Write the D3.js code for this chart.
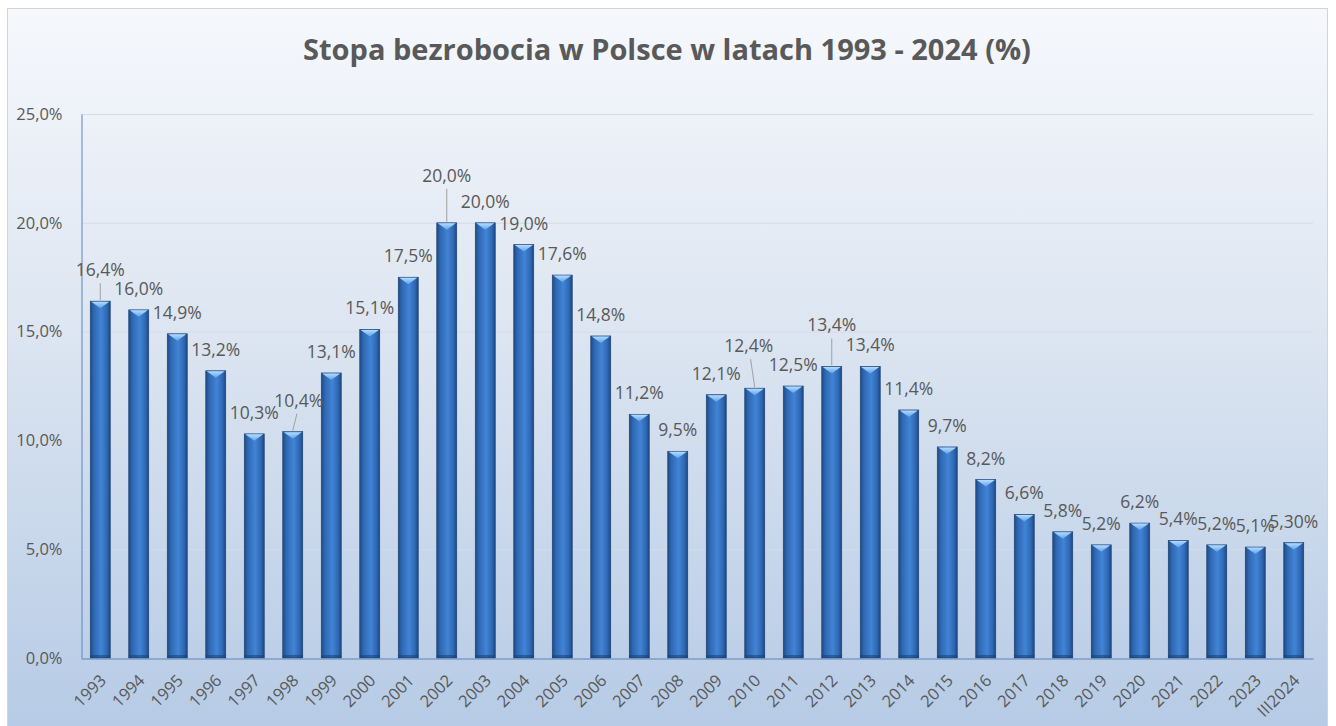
<!DOCTYPE html>
<html>
<head>
<meta charset="utf-8">
<script src="https://cdn.jsdelivr.net/npm/d3@7"></script>
<style>
  html, body { margin: 0; padding: 0; background: #ffffff; }
  svg { display: block; }
  text { font-family: "Open Sans", "DejaVu Sans", sans-serif; }
</style>
</head>
<body>
<svg id="chart" width="1336" height="726"></svg>
<script>
// ---------- DATA ----------
const categories = ["1993","1994","1995","1996","1997","1998","1999","2000","2001","2002",
  "2003","2004","2005","2006","2007","2008","2009","2010","2011","2012","2013","2014",
  "2015","2016","2017","2018","2019","2020","2021","2022","2023","III2024"];
const values = [16.4,16.0,14.9,13.2,10.3,10.4,13.1,15.1,17.5,20.0,20.0,19.0,17.6,14.8,
  11.2,9.5,12.1,12.4,12.5,13.4,13.4,11.4,9.7,8.2,6.6,5.8,5.2,6.2,5.4,5.2,5.1,5.3];
const valueLabels = ["16,4%","16,0%","14,9%","13,2%","10,3%","10,4%","13,1%","15,1%","17,5%",
  "20,0%","20,0%","19,0%","17,6%","14,8%","11,2%","9,5%","12,1%","12,4%","12,5%","13,4%",
  "13,4%","11,4%","9,7%","8,2%","6,6%","5,8%","5,2%","6,2%","5,4%","5,2%","5,1%","5,30%"];
const yTicks = [0, 5, 10, 15, 20, 25];
const yTickLabels = ["0,0%","5,0%","10,0%","15,0%","20,0%","25,0%"];
const titleText = "Stopa bezrobocia w Polsce w latach 1993 - 2024 (%)";

// ---------- LAYOUT / STYLE ----------
const W = 1336, H = 726;
const plot = { left: 81, right: 1313, top: 114, bottom: 658 };
// manually moved data labels (index -> offset from default place), drawn with leader lines
const movedLabels = { 0: {dx: 0, dy: -10}, 5: {dx: 6, dy: -10}, 9: {dx: 0, dy: -26},
                      17: {dx: -6, dy: -21}, 19: {dx: 0, dy: -20} };
const textColor = "#595959";

const svg = d3.select("#chart");
const defs = svg.append("defs");

// background gradient
const bg = defs.append("linearGradient").attr("id", "bgGrad")
  .attr("x1", 0).attr("y1", 0).attr("x2", 0).attr("y2", 1);
bg.append("stop").attr("offset", "0%").attr("stop-color", "#f6f8fc");
bg.append("stop").attr("offset", "45%").attr("stop-color", "#dce5f1");
bg.append("stop").attr("offset", "100%").attr("stop-color", "#b5cae5");

// bar gradient (horizontal)
const bar = defs.append("linearGradient").attr("id", "barGrad")
  .attr("x1", 0).attr("y1", 0).attr("x2", 1).attr("y2", 0);
bar.append("stop").attr("offset", "0%").attr("stop-color", "#1d4a85");
bar.append("stop").attr("offset", "18%").attr("stop-color", "#2f68b2");
bar.append("stop").attr("offset", "55%").attr("stop-color", "#4184d6");
bar.append("stop").attr("offset", "85%").attr("stop-color", "#2e66b0");
bar.append("stop").attr("offset", "100%").attr("stop-color", "#1b4680");

const bevel = defs.append("linearGradient").attr("id", "bevelGrad")
  .attr("x1", 0).attr("y1", 0).attr("x2", 0).attr("y2", 1);
bevel.append("stop").attr("offset", "0%").attr("stop-color", "#b4dcff");
bevel.append("stop").attr("offset", "100%").attr("stop-color", "#5fa2ea");

// chart area
svg.append("rect").attr("x", 0).attr("y", 0).attr("width", W).attr("height", H).attr("fill", "#ffffff");
svg.append("rect").attr("x", 7.5).attr("y", 8.5).attr("width", 1320).attr("height", 730)
  .attr("fill", "url(#bgGrad)").attr("stroke", "#d4d4d4").attr("stroke-width", 1);

// title
svg.append("text").attr("x", 667).attr("y", 60).attr("text-anchor", "middle")
  .attr("font-size", 29).attr("font-weight", "bold").attr("fill", textColor)
  .text(titleText);

// scales
const x = d3.scaleBand().domain(categories).range([plot.left, plot.right])
  .paddingInner(0.48).paddingOuter(0.24);
const y = d3.scaleLinear().domain([0, 25]).range([plot.bottom, plot.top]);

// gridlines
svg.append("g").selectAll("line").data(yTicks.filter(d => d > 0)).join("line")
  .attr("x1", plot.left).attr("x2", plot.right)
  .attr("y1", d => y(d) + 0.5).attr("y2", d => y(d) + 0.5)
  .attr("stroke", "#d3dce8").attr("stroke-width", 1);

// y axis
const yAxis = d3.axisLeft(y).tickValues(yTicks)
  .tickFormat((d, i) => yTickLabels[i]).tickSize(0).tickPadding(19);
const gy = svg.append("g").attr("transform", `translate(${plot.left + 0.5},0)`).call(yAxis);
gy.select(".domain").attr("stroke", "#5a85bd");
gy.selectAll("text").attr("font-size", 16.5).attr("fill", textColor)
  .attr("font-family", "'Open Sans', sans-serif");

// bars
const bw = x.bandwidth();
const gb = svg.append("g");
const barsG = gb.selectAll("g.bar").data(values).join("g").attr("class", "bar");
barsG.append("rect")
  .attr("x", (d, i) => x(categories[i]))
  .attr("y", d => y(d))
  .attr("width", bw)
  .attr("height", d => y(0) - y(d))
  .attr("fill", "url(#barGrad)")
  .attr("stroke", "#1a3f70").attr("stroke-width", 0.6);
barsG.append("path")
  .attr("d", (d, i) => {
    const x0 = x(categories[i]), t = y(d);
    return `M${x0 + 1},${t + 0.5} L${x0 + bw - 1},${t + 0.5} L${x0 + bw / 2},${t + 7} Z`;
  })
  .attr("fill", "url(#bevelGrad)");
barsG.append("rect")
  .attr("x", (d, i) => x(categories[i]))
  .attr("y", d => y(0) - 3)
  .attr("width", bw).attr("height", 3)
  .attr("fill", "#1a3f70").attr("opacity", 0.55);

// x axis
const xAxis = d3.axisBottom(x).tickSize(0).tickPadding(0);
const gx = svg.append("g").attr("transform", `translate(0,${plot.bottom + 0.5})`).call(xAxis);
gx.select(".domain").attr("stroke", "#5a85bd").attr("stroke-width", 1.2);
gx.selectAll("text")
  .attr("font-size", 16.5).attr("fill", textColor)
  .attr("font-family", "'Open Sans', sans-serif")
  .attr("text-anchor", "end")
  .attr("dy", 0)
  .attr("transform", "translate(7,23) rotate(-45)");

// data labels
const gl = svg.append("g");
values.forEach((v, i) => {
  const cx = x(categories[i]) + bw / 2;
  const top = y(v);
  const off = movedLabels[i] || { dx: 0, dy: 0 };
  const lx = cx + off.dx, ly = top - 15 + off.dy;
  if (movedLabels[i]) {
    gl.append("line")
      .attr("x1", lx - off.dx * 0.3).attr("y1", ly + 7)
      .attr("x2", cx).attr("y2", top - 1)
      .attr("stroke", "#a0a0a0").attr("stroke-width", 1);
  }
  gl.append("text").attr("x", lx).attr("y", ly)
    .attr("text-anchor", "middle").attr("font-size", 17.5).attr("fill", textColor)
    .text(valueLabels[i]);
});
</script>
</body>
</html>
